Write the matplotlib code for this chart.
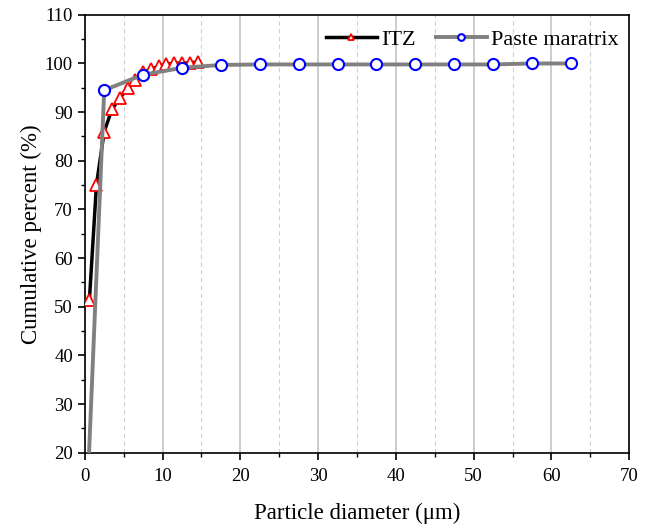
import numpy as np
import matplotlib
matplotlib.use('Agg')
import matplotlib.pyplot as plt
from matplotlib.ticker import MultipleLocator

plt.rcParams['font.family'] = ['Liberation Serif', 'DejaVu Serif']

# ITZ particle size distribution
itz_d = [0.6, 1.5, 2.5, 3.5, 4.5, 5.5, 6.5, 7.5, 8.5, 9.5, 10.5, 11.5, 12.5, 13.5, 14.5]
itz_cum = [51.5, 75.0, 86.0, 90.6, 92.9, 94.9, 96.6, 98.2, 98.8, 99.4, 99.9, 100.0, 100.1, 100.1, 100.3]

# Paste matrix particle size distribution
paste_d = [0.5, 2.5, 7.5, 12.5, 17.5, 22.5, 27.5, 32.5, 37.5, 42.5, 47.5, 52.5, 57.5, 62.5]
paste_cum = [18.0, 94.5, 97.7, 99.1, 99.7, 99.8, 99.8, 99.8, 99.8, 99.8, 99.8, 99.8, 100.0, 100.0]

fig = plt.figure(figsize=(6.52, 5.29), dpi=100)
ax = fig.add_axes([0.130, 0.144, 0.835, 0.828])

ax.plot(itz_d, itz_cum, color='black', lw=2.5, marker='^', ms=8,
        mfc='white', mec='red', mew=1.3, label='ITZ', zorder=3)
ax.plot(paste_d, paste_cum, color='#808080', lw=2.8, marker='o', ms=8,
        mfc='white', mec='blue', mew=1.5, label='Paste maratrix', zorder=4)

ax.set_xlim(0, 70)
ax.set_ylim(20, 110)
ax.xaxis.set_major_locator(MultipleLocator(10))
ax.xaxis.set_minor_locator(MultipleLocator(5))
ax.yaxis.set_major_locator(MultipleLocator(10))
ax.yaxis.set_minor_locator(MultipleLocator(5))

ax.grid(True, which='major', axis='x', color='#c4c4c4', lw=1.2, ls='-')
ax.grid(True, which='minor', axis='x', color='#d0d0d0', lw=0.8, ls=(0, (4, 3)))
ax.set_axisbelow(True)

ax.tick_params(which='major', direction='out', length=5, width=1.2, labelsize=13.5)
ax.tick_params(axis='x', which='major', pad=6)
ax.tick_params(which='minor', direction='out', length=3, width=1.0)
for s in ax.spines.values():
    s.set_linewidth(1.2)

ax.set_xlabel('Particle diameter (\u03bcm)', fontsize=16.5, labelpad=13)
ax.set_ylabel('Cumulative percent (%)', fontsize=16.5, labelpad=2)

ax.legend(loc='upper right', bbox_to_anchor=(1.01, 1.003), ncol=2, frameon=False,
          fontsize=16, handlelength=2.3, columnspacing=0.9, handletextpad=0.2,
          borderaxespad=0.3, markerscale=0.6)

fig.savefig('out.png', dpi=100)
